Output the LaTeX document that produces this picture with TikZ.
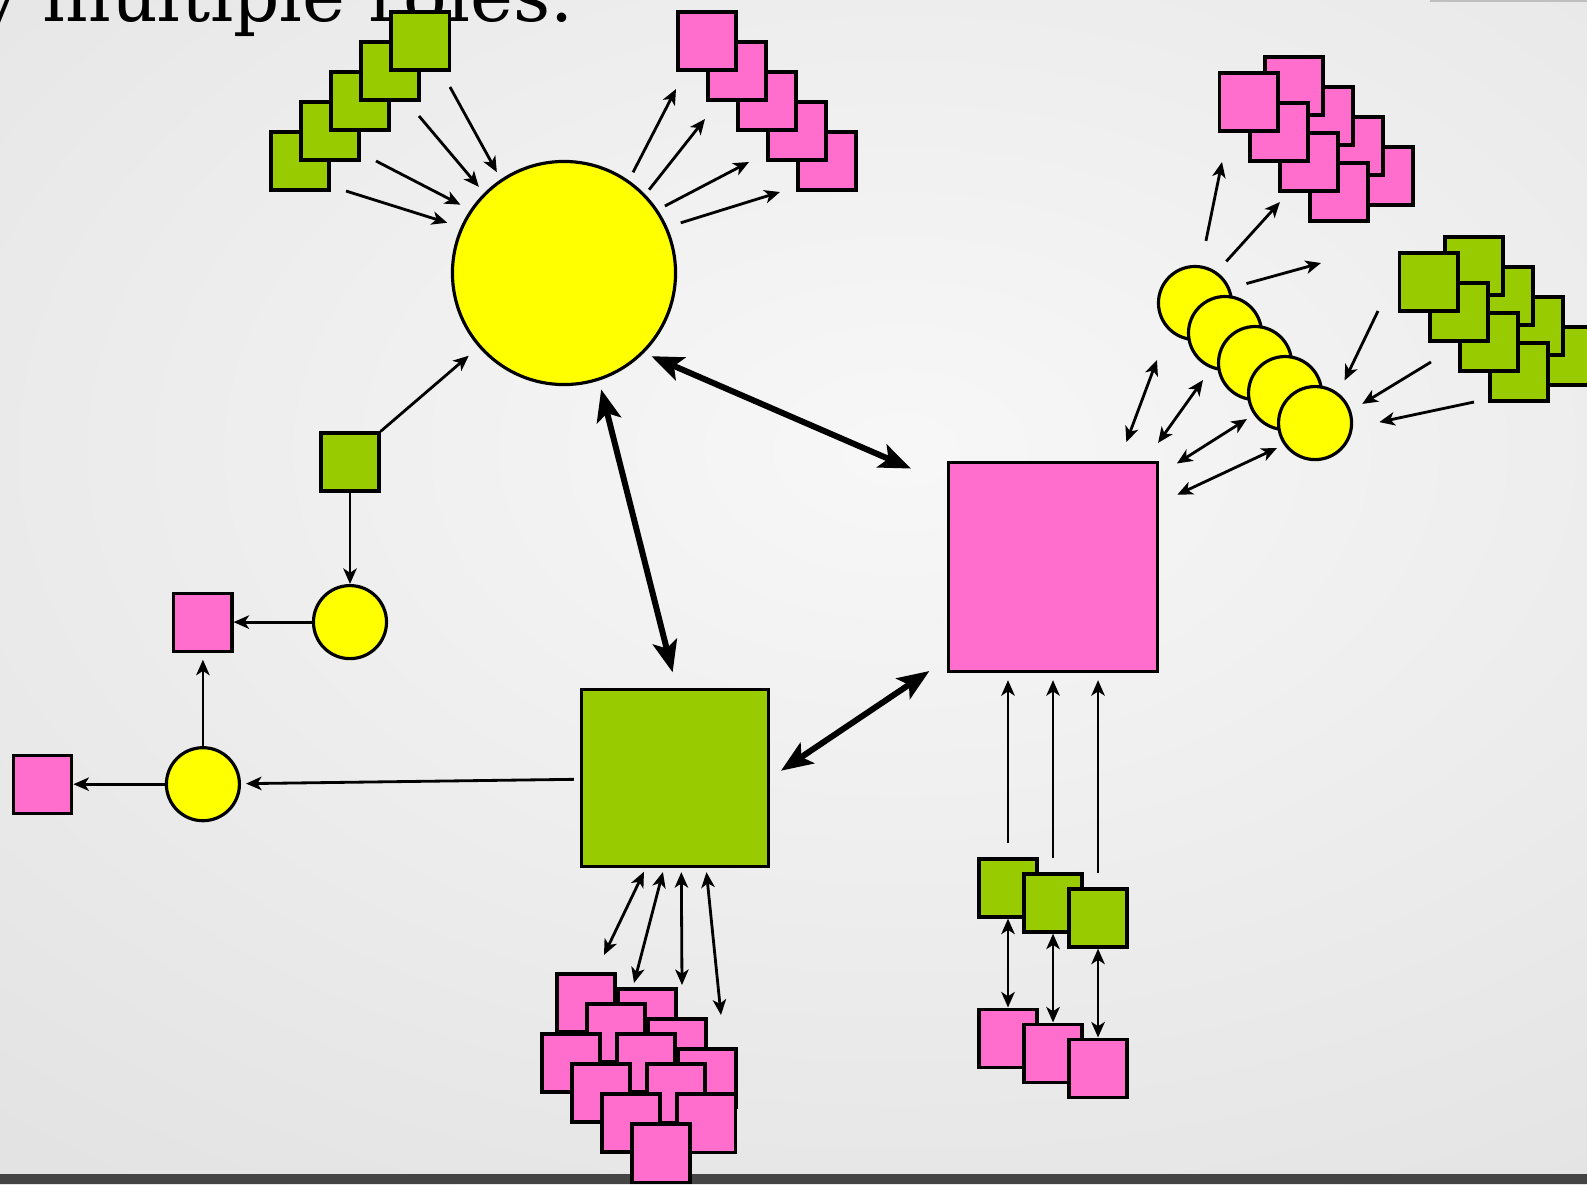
\documentclass[tikz,border=0pt]{standalone}
\usepackage{amsmath}
\usepackage{fontspec}
\usepackage{tikz}
\usetikzlibrary{arrows.meta}
\usetikzlibrary{positioning}

\newfontfamily\slidefont{DejaVu Serif}
\definecolor{pinkfill}{HTML}{FF6ECC}
\definecolor{greenfill}{HTML}{99CC00}
\definecolor{yellowfill}{HTML}{FFFF00}
\definecolor{slidegray}{HTML}{444444}

\begin{document}
\begin{tikzpicture}[x=0.01cm,y=-0.01cm,on grid,
	>={Stealth[length=4.4pt,width=3.8pt,inset=1.2pt]},
	box/.style={rectangle,draw,line width=0.9pt,inner sep=0pt,minimum size=0.58cm},
	pink node/.style={box,fill=pinkfill},
	green node/.style={box,fill=greenfill},
	yellow node/.style={circle,draw,line width=0.9pt,inner sep=0pt,
		fill=yellowfill,minimum size=0.73cm},
	one way/.style={->,line width=0.8pt},
	two way/.style={<->,line width=0.8pt},
	main way/.style={line width=1.7pt,
		{Stealth[length=9pt,width=7pt,inset=2pt]}-{Stealth[length=9pt,width=7pt,inset=2pt]}}]
	
	% slide background
	\clip (0,0) rectangle (1587,1184);
	\shade[inner color=white!97!black,outer color=white!89!black] (-500,-450) rectangle (2300,1350);
	\fill[slidegray] (0,1174) rectangle (1587,1184);
	\fill[white!75!black] (1430,0) rectangle (1587,2);
	\node[anchor=base west,inner sep=0pt,font=\slidefont\fontsize{20.6}{24}\selectfont] (title) at (-22,21) {y multiple roles.};
	
	% the three big ones
	\node[yellow node,minimum size=2.23cm] (Y) at (564,273) {};
	\node[pink node,minimum size=2.09cm] (P) at (1053,567) {};
	\node[green node,minimum width=1.87cm,minimum height=1.77cm] (G) at (675,778) {};
	
	% left chain
	\node[green node] (g0) at (350,462) {};
	\node[yellow node] (y1) [below=1.6cm of g0] {};
	\node[pink node] (p1) [left=1.47cm of y1] {};
	\node[yellow node] (y2) [below=1.62cm of p1] {};
	\node[pink node] (p2) [left=1.6cm of y2] {};
	
	% stacks round Y
	\node[green node] (a1) at (300,161) {};
	\node[green node] (a2) [above right=0.3cm and 0.3cm of a1] {};
	\node[green node] (a3) [above right=0.3cm and 0.3cm of a2] {};
	\node[green node] (a4) [above right=0.3cm and 0.3cm of a3] {};
	\node[green node] (a5) [above right=0.3cm and 0.3cm of a4] {};
	\node[pink node] (b5) at (827,161) {};
	\node[pink node] (b4) [above left=0.3cm and 0.3cm of b5] {};
	\node[pink node] (b3) [above left=0.3cm and 0.3cm of b4] {};
	\node[pink node] (b2) [above left=0.3cm and 0.3cm of b3] {};
	\node[pink node] (b1) [above left=0.3cm and 0.3cm of b2] {};
	
	% pile under G
	\node[pink node] (ca) at (586,1003) {};
	\node[pink node] (cb) at (647,1018) {};
	\node[pink node] (cc) [below right=0.3cm and 0.3cm of ca] {};
	\node[pink node] (cd) [below right=0.3cm and 0.3cm of cb] {};
	\node[pink node] (ce) at (571,1063) {};
	\node[pink node] (cf) [below right=0.3cm and 0.3cm of cc] {};
	\node[pink node] (cg) [below right=0.3cm and 0.3cm of cd] {};
	\node[pink node] (ch) [below right=0.3cm and 0.3cm of ce] {};
	\node[pink node] (ci) [below right=0.3cm and 0.3cm of cf] {};
	\node[pink node] (cj) [below right=0.3cm and 0.3cm of ch] {};
	\node[pink node] (ck) [below right=0.3cm and 0.3cm of ci] {};
	\node[pink node] (cl) [below right=0.3cm and 0.3cm of cj] {};
	
	% pairs under P
	\node[green node] (d1) at (1008,888) {};
	\node[green node] (d2) [below right=0.15cm and 0.45cm of d1] {};
	\node[green node] (d3) [below right=0.15cm and 0.45cm of d2] {};
	\node[pink node] (e1) [below=1.5cm of d1] {};
	\node[pink node] (e2) [below=1.5cm of d2] {};
	\node[pink node] (e3) [below=1.5cm of d3] {};
	
	% yellow row and the two piles at the right
	\node[yellow node] (f1) at (1195,303) {};
	\node[yellow node] (f2) [below right=0.3cm and 0.3cm of f1] {};
	\node[yellow node] (f3) [below right=0.3cm and 0.3cm of f2] {};
	\node[yellow node] (f4) [below right=0.3cm and 0.3cm of f3] {};
	\node[yellow node] (f5) [below right=0.3cm and 0.3cm of f4] {};
	\node[pink node] (h7) at (1384,176) {};
	\node[pink node] (h5) [above left=0.3cm and 0.3cm of h7] {};
	\node[pink node] (h3) [above left=0.3cm and 0.3cm of h5] {};
	\node[pink node] (h1) [above left=0.3cm and 0.3cm of h3] {};
	\node[pink node] (h8) [below left=0.16cm and 0.45cm of h7] {};
	\node[pink node] (h6) [above left=0.3cm and 0.3cm of h8] {};
	\node[pink node] (h4) [above left=0.3cm and 0.3cm of h6] {};
	\node[pink node] (h2) [above left=0.3cm and 0.3cm of h4] {};
	\node[green node] (r7) at (1564,356) {};
	\node[green node] (r5) [above left=0.3cm and 0.3cm of r7] {};
	\node[green node] (r3) [above left=0.3cm and 0.3cm of r5] {};
	\node[green node] (r1) [above left=0.3cm and 0.3cm of r3] {};
	\node[green node] (r8) [below left=0.16cm and 0.45cm of r7] {};
	\node[green node] (r6) [above left=0.3cm and 0.3cm of r8] {};
	\node[green node] (r4) [above left=0.3cm and 0.3cm of r6] {};
	\node[green node] (r2) [above left=0.3cm and 0.3cm of r4] {};
	
	% free ends of the fans
	\coordinate (ga1) at (346,191); \coordinate (ga2) at (376,161);
	\coordinate (ga3) at (419,116); \coordinate (ga4) at (450,87);
	\coordinate (ta1) at (676,89);  \coordinate (ta2) at (705,119);
	\coordinate (ta3) at (749,162); \coordinate (ta4) at (780,192);
	\coordinate (gc1) at (604,955); \coordinate (gc2) at (634,983);
	\coordinate (gc3) at (682,985); \coordinate (gc4) at (721,1015);
	\coordinate (qa1) at (1222,162); \coordinate (qa2) at (1280,202);
	\coordinate (qa3) at (1321,263);
	\coordinate (ra1) at (1378,311); \coordinate (ra2) at (1431,362);
	\coordinate (ra3) at (1474,402);
	\coordinate (pa1) at (1157,360); \coordinate (pa2) at (1203,380);
	\coordinate (pa3) at (1247,419); \coordinate (pa4) at (1277,448);
	
	\path[one way]
	(ga1) edge[shorten >=0.14cm] (Y.156)
	(ga2) edge[shorten >=0.11cm] (Y.146)
	(ga3) edge[shorten >=0.08cm] (Y.135)
	(ga4) edge[shorten >=0.08cm] (Y.124.5)
	(Y.55) edge[shorten <=0.09cm] (ta1)
	(Y.44.7) edge[shorten <=0.06cm] (ta2)
	(Y.34.5) edge[shorten <=0.08cm] (ta3)
	(Y.24.3) edge[shorten <=0.14cm] (ta4)
	(g0.north east) edge[shorten >=0.13cm] (Y.221)
	(g0) edge (y1)
	(y1) edge (p1)
	(y2) edge[shorten >=0.07cm] (p1)
	(y2) edge (p2)
	(G) edge[shorten <=0.06cm,shorten >=0.05cm] (y2)
	(d1) edge[shorten <=0.14cm,shorten >=0.07cm] (d1 |- P.south)
	(d2) edge[shorten <=0.14cm,shorten >=0.07cm] (d2 |- P.south)
	(d3) edge[shorten <=0.14cm,shorten >=0.07cm] (d3 |- P.south)
	(f1.81.7) edge[shorten <=0.25cm] (qa1)
	(f1.55.4) edge[shorten <=0.14cm] (qa2)
	(f1.23.7) edge[shorten <=0.17cm] (qa3)
	(ra1) edge[shorten >=0.14cm] (f5.52.9)
	(ra2) edge[shorten >=0.13cm] (f5.19.9)
	(ra3) edge[shorten >=0.27cm] (f5.353.8);
	
	\path[two way]
	(G.252.3) edge[shorten <=0.04cm] (gc1)
	(G.263.3) edge[shorten <=0.04cm] (gc2)
	(G.274.3) edge[shorten <=0.04cm] (gc3)
	(G.289.3) edge[shorten <=0.04cm] (gc4)
	(d1) edge (e1)
	(d2) edge (e2)
	(d3) edge (e3)
	(P.58.6) edge[shorten <=0.2cm] (pa1)
	(P.49) edge[shorten <=0.22cm] (pa2)
	(P.41.5) edge[shorten <=0.21cm] (pa3)
	(P.31.7) edge[shorten <=0.2cm] (pa4);
	
	\path[main way]
	(Y.315.7) edge[shorten <=0.08cm,shorten >=0.39cm] (P.142.5)
	(Y.288.3) edge[shorten <=0.09cm,shorten >=0.16cm] (G.89.5)
	(G.0.5) edge[shorten <=0.13cm,shorten >=0.21cm] (P.221.8);
\end{tikzpicture}
\end{document}
